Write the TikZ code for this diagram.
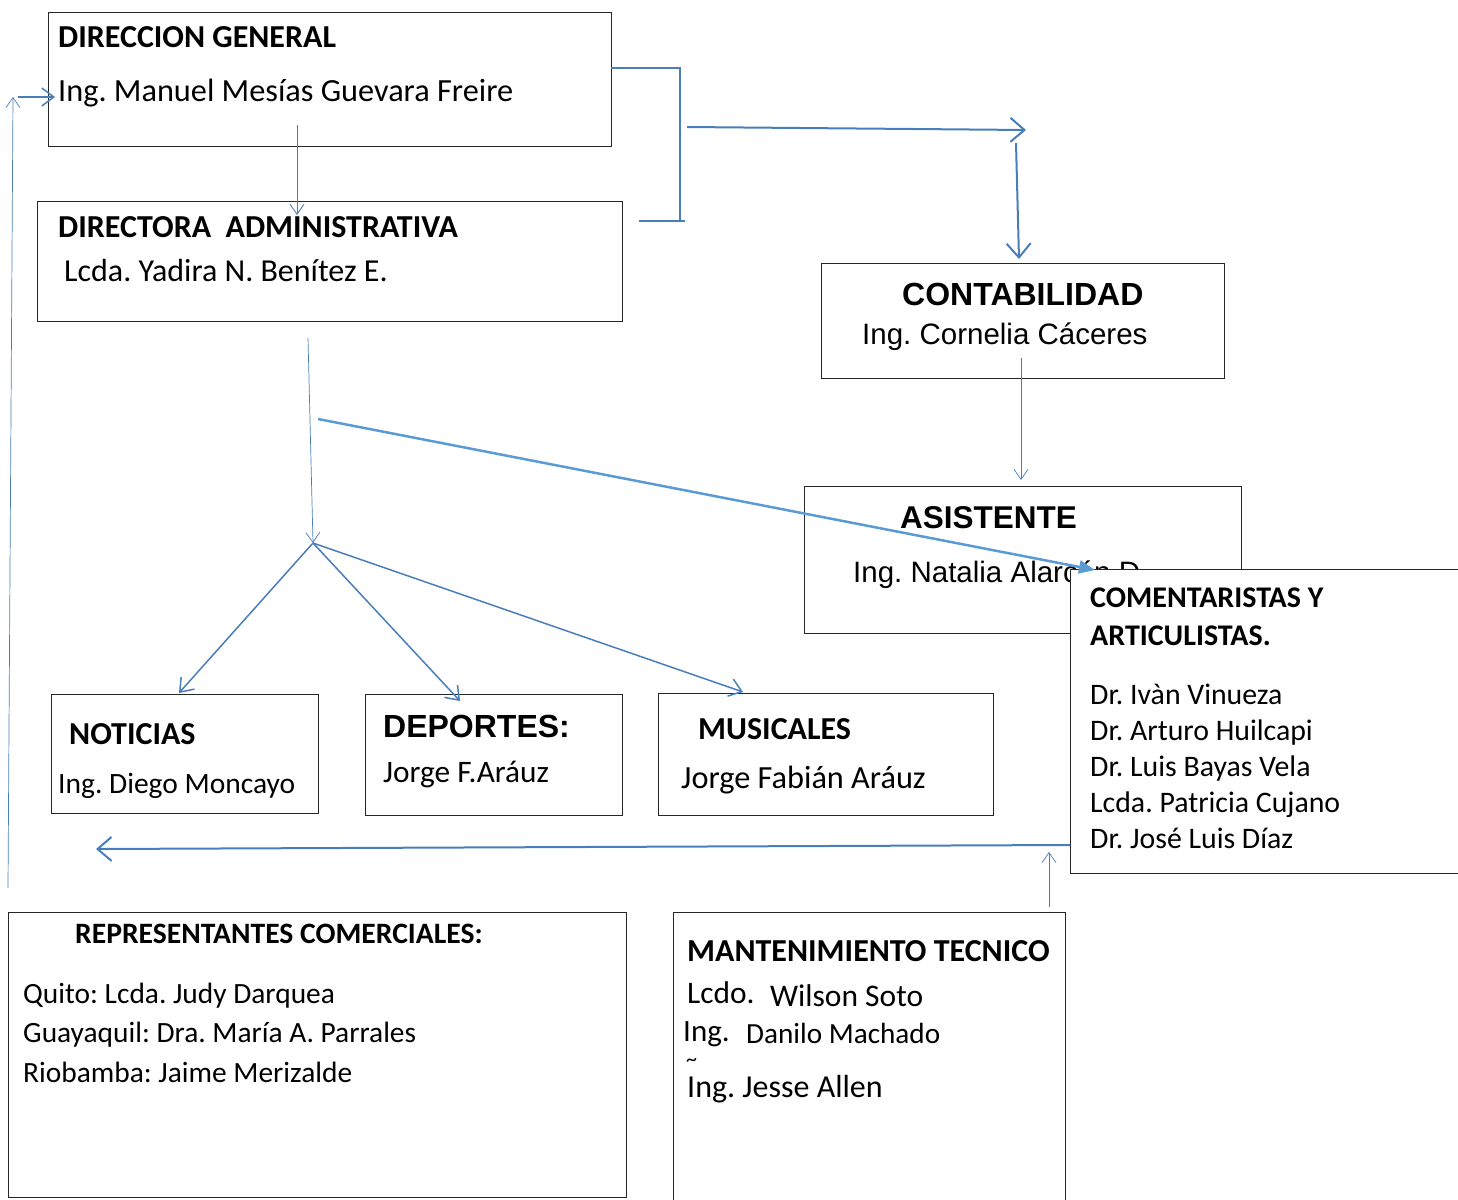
\documentclass[tikz,border=0pt]{standalone}
\usepackage{fontspec}
\setmainfont{Carlito}
\newfontfamily\arialfont{Liberation Sans}
\usetikzlibrary{arrows.meta,positioning,calc}
\definecolor{linkblue}{HTML}{4A7EBB}
\definecolor{lightblue}{HTML}{5B9BD5}
\frenchspacing

\begin{document}
\begin{tikzpicture}[x=1pt, y=-1pt,
  box/.style={draw=black!85, line width=1.1pt, fill=white, anchor=north west, inner sep=0pt},
  txt/.style={anchor=base west, inner sep=0pt, font=\fontsize{31.5}{37}\selectfont},
  ttl/.style={txt, font=\fontsize{32}{38}\selectfont\bfseries},
  atxt/.style={txt, font=\fontsize{29.5}{35}\selectfont\arialfont},
  attl/.style={txt, font=\fontsize{32}{38}\selectfont\arialfont\bfseries},
  thinlink/.style={draw=linkblue, line width=0.9pt, -{Straight Barb[length=10pt, width=14pt]}},
  midlink/.style={draw=linkblue, line width=1.5pt, -{Straight Barb[length=12pt, width=18pt]}},
  thicklink/.style={draw=linkblue, line width=2pt, -{Straight Barb[length=14pt, width=24pt]}},
  bracket/.style={draw=linkblue, line width=2pt}]

\useasboundingbox (0,0) rectangle (1458,1199);

% boxes
\node[box, minimum width=563, minimum height=134] (dg) at (48,12) {};
\node[box, minimum width=585, minimum height=120] (da) at (37,201) {};
\node[box, minimum width=403, minimum height=115] (cont) at (821,263) {};
\node[box, minimum width=437, minimum height=147] (asis) at (804,486) {};
\node[box, minimum width=267, minimum height=119] (noti) at (51,694) {};
\node[box, minimum width=257, minimum height=121] (dep) at (365,694) {};
\node[box, minimum width=335, minimum height=122] (mus) at (658,693) {};
\node[box, minimum width=618, minimum height=285] (rep) at (8,912) {};
\node[box, minimum width=392, minimum height=300] (mant) at (673,912) {};

% texts
\node[ttl] (dgT) at (58,48) {DIRECCION GENERAL};
\node[txt, font=\fontsize{32.3}{38}\selectfont] (dgN) at (58,101) {Ing. Manuel Mesías Guevara Freire};
\node[ttl] (daT) at (58,237) {DIRECTORA\ \ ADMINISTRATIVA};
\node[txt, font=\fontsize{32}{38}\selectfont] (daN) at (64,281) {Lcda. Yadira N. Benítez E.};
\node[attl] (contT) at (902,305) {CONTABILIDAD};
\node[atxt] (contN) at (862,344) {Ing. Cornelia Cáceres};
\node[attl, font=\fontsize{31.5}{37}\selectfont\arialfont\bfseries] (asisT) at (900,528) {ASISTENTE};
\node[atxt] (asisN) at (853,582) {Ing. Natalia Alarcón D.};
\node[ttl] (notiT) at (69,744) {NOTICIAS};
\node[txt, font=\fontsize{29.5}{35}\selectfont] (notiN) at (58,793) {Ing. Diego Moncayo};
\node[attl] (depT) at (383,737) {DEPORTES:};
\node[txt, font=\fontsize{31.3}{37}\selectfont] (depN) at (383,782) {Jorge F.Aráuz};
\node[ttl] (musT) at (698,739) {MUSICALES};
\node[txt, font=\fontsize{32.3}{38}\selectfont] (musN) at (681,788) {Jorge Fabián Aráuz};
\node[ttl, font=\fontsize{29.6}{35}\selectfont\bfseries] (repT) at (75,943) {REPRESENTANTES COMERCIALES:};
\node[txt, font=\fontsize{29.4}{35}\selectfont] (rep1) at (23,1003) {Quito: Lcda. Judy Darquea};
\node[txt, font=\fontsize{29.4}{35}\selectfont] (rep2) at (23,1042) {Guayaquil: Dra. María A. Parrales};
\node[txt, font=\fontsize{29.4}{35}\selectfont] (rep3) at (23,1082) {Riobamba: Jaime Merizalde};
\node[ttl] (mantT) at (687,961) {MANTENIMIENTO TECNICO};
\node[txt, font=\fontsize{31.4}{37}\selectfont] (mant1a) at (687,1003) {Lcdo.};
\node[txt] (mant1b) at (770,1006) {Wilson Soto};
\node[txt, font=\fontsize{31}{37}\selectfont] (mant2a) at (683,1041) {Ing.};
\node[txt, font=\fontsize{29.2}{35}\selectfont] (mant2b) at (746,1043) {Danilo Machado};
\node[txt, font=\fontsize{22}{26}\selectfont] (mantTl) at (686,1066) {\textasciitilde};
\node[txt, font=\fontsize{32}{38}\selectfont] (mant3) at (687,1097) {Ing. Jesse Allen};

% comentaristas box covers part of the assistant's name
\node[box, minimum width=400, minimum height=304] (com) at (1070,569) {};
\node[ttl, font=\fontsize{30}{36}\selectfont\bfseries] (comT1) at (1090,607) {COMENTARISTAS Y};
\node[ttl, font=\fontsize{30}{36}\selectfont\bfseries] (comT2) at (1090,645) {ARTICULISTAS.};
\foreach \name [count=\i] in {Dr. Ivàn Vinueza, Dr. Arturo Huilcapi, Dr. Luis Bayas Vela,
    Lcda. Patricia Cujano, Dr. José Luis Díaz}
  \node[txt, font=\fontsize{29.8}{35}\selectfont] (com\i) at (1090,669+35.8*\i) {\name};

% free ends of the connectors
\coordinate (dgOut) at (297,125);
\coordinate (daIn) at (297,215);
\coordinate (brTop) at (611,68);
\coordinate (brCorner) at (680,68);
\coordinate (brBottom) at (680,221);
\coordinate (brLeft) at (639,221);
\coordinate (brRight) at (685,221);
\coordinate (rightFrom) at (687,127);
\coordinate (rightTo) at (1026,130);
\coordinate (downFrom) at (1016,143);
\coordinate (contIn) at (1019,259);
\coordinate (contOut) at (1021,358);
\coordinate (asisIn) at (1021,480);
\coordinate (daOut) at (308,338);
\coordinate (hub) at (313,543);
\coordinate (notiIn) at (179,693);
\coordinate (depIn) at (460,701);
\coordinate (musIn) at (743,692);
\coordinate (longFrom) at (318,419);
\coordinate (comIn) at (1095,570);
\coordinate (comOut) at (1070,845);
\coordinate (leftEnd) at (96,849);
\coordinate (mantOut) at (1049,907);
\coordinate (mantUp) at (1049,852);
\coordinate (sideLow) at (8,888);
\coordinate (sideTop) at (13,97);
\coordinate (sideFrom) at (18,97);
\coordinate (dgIn) at (55,97);

% connectors
\draw[thinlink] (dgOut) -- (daIn);
\draw[bracket] (brTop) -- (brCorner) -- (brBottom);
\draw[bracket] (brLeft) -- (brRight);
\draw[thicklink] (rightFrom) -- (rightTo);
\draw[thicklink] (downFrom) -- (contIn);
\draw[thinlink, line width=0.7pt] (contOut) -- (asisIn);
\draw[thinlink, line width=0.7pt] (daOut) -- (hub);
\draw[midlink] (hub) -- (notiIn);
\draw[midlink] (hub) -- (depIn);
\draw[midlink] (hub) -- (musIn);
\draw[draw=lightblue, line width=2.5pt, -{Triangle[length=16pt, width=13pt]}] (longFrom) -- (comIn);
\draw[thicklink] (comOut) -- (leftEnd);
\draw[thinlink, line width=0.7pt] (mantOut) -- (mantUp);
\draw[thinlink, line width=0.7pt] (sideLow) -- (sideTop);
\draw[midlink] (sideFrom) -- (dgIn);

\end{tikzpicture}
\end{document}
